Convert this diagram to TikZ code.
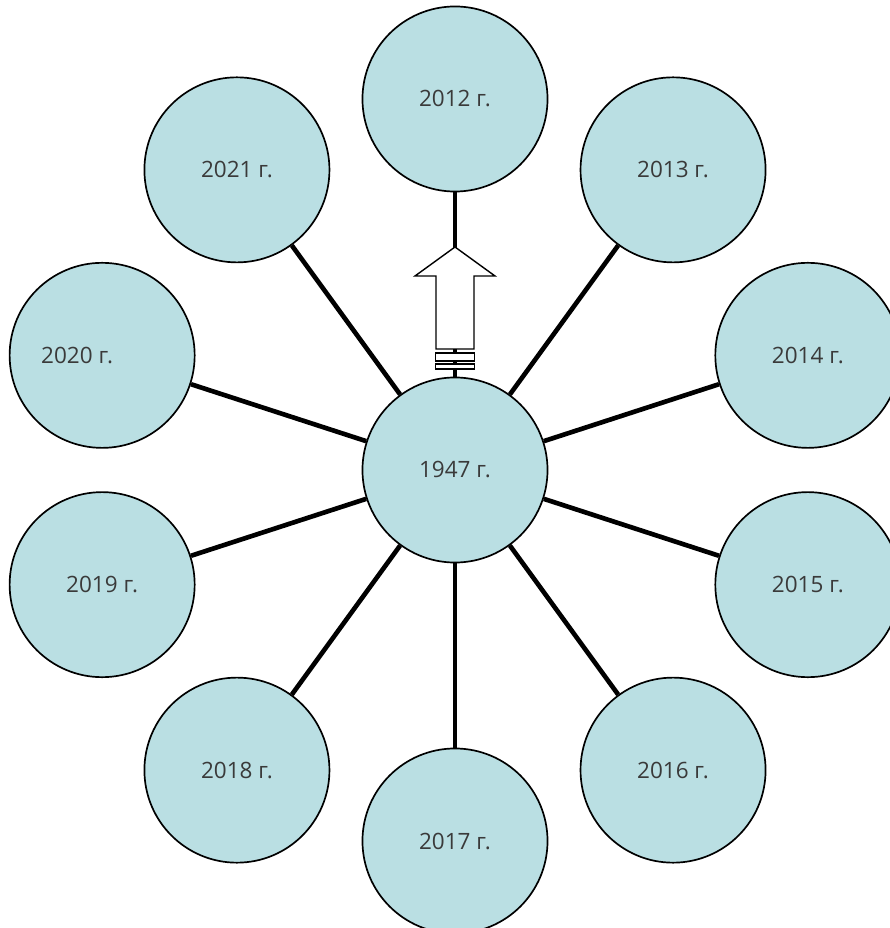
\documentclass[tikz,border=0pt]{standalone}
\usepackage{fontspec}
\setmainfont{Open Sans}
\definecolor{yearfill}{HTML}{BADFE3}
\definecolor{yeartext}{HTML}{3A3A3A}
\tikzset{
  year/.style={circle, draw, line width=1.2pt, fill=yearfill, inner sep=0pt,
    minimum size=4.625cm, text=yeartext, font=\fontsize{16}{19}\selectfont}
}
\begin{document}
\begin{tikzpicture}[x=0.025cm, y=0.025cm]
      \useasboundingbox (-455,-458) rectangle (434,470);
      \draw
        (0,0) node[year] (c){1947 г.}
        (90:371) node[year] (0){2012 г.}
        (54:371) node[year] (1){2013 г.}
        (18:371) node[year] (2){2014 г.}
        (-18:371) node[year] (3){2015 г.}
        (-54:371) node[year] (4){2016 г.}
        (-90:371) node[year] (5){2017 г.}
        (-126:371) node[year] (6){2018 г.}
        (-162:371) node[year] (7){2019 г.}
        (162:371) node[year] (8){2020 г.\kern1.25cm}
        (126:371) node[year] (9){2021 г.};
      \begin{scope}[-, line width=3.3pt]
        \draw (c) to (0);
        \draw (c) to (1);
        \draw (c) to (2);
        \draw (c) to (3);
        \draw (c) to (4);
        \draw (c) to (5);
        \draw (c) to (6);
        \draw (c) to (7);
        \draw (c) to (8);
        \draw (c) to (9);
      \end{scope}
      \begin{scope}[line width=1pt, fill=white]
        \filldraw (-19,121) -- (-19,194) -- (-40,194) -- (0,223)
          -- (40,194) -- (19,194) -- (19,121) -- cycle;
        \filldraw (-19.5,109) rectangle (19.5,117);
        \filldraw (-19.5,101) rectangle (19.5,106);
      \end{scope}
    \end{tikzpicture}
\end{document}
